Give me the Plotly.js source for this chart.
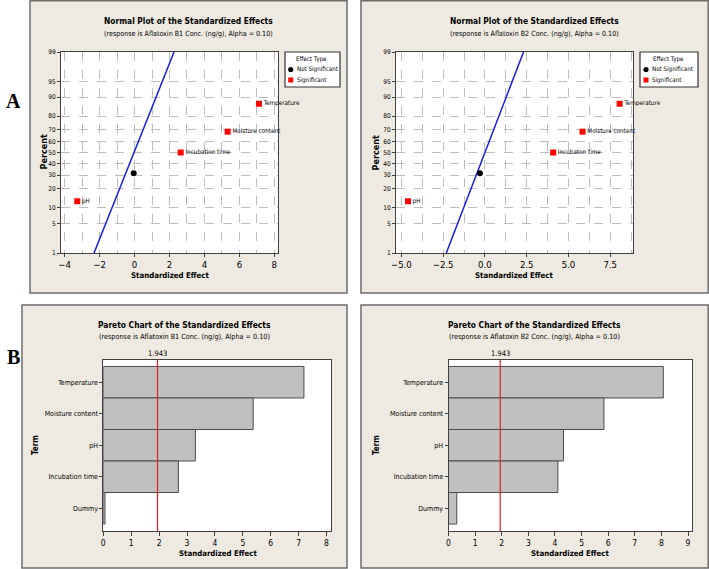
<!DOCTYPE html>
<html>
<head>
<meta charset="utf-8">
<script src="https://cdn.plot.ly/plotly-3.0.1.min.js"></script>
<style>
  html, body { margin: 0; padding: 0; background: #ffffff; }
  #chart { width: 709px; height: 569px; }
</style>
</head>
<body>
<div id="chart"></div>
<script>
// ---------------- DATA ----------------
const terms = ['Temperature', 'Moisture content', 'pH', 'Incubation time', 'Dummy'];
const significant = [true, true, true, true, false];
// normal-plot percentiles of each term
const normalPct = [87.04, 68.52, 12.96, 50, 31.48];
// standardized effects
const normalEffectB1 = [7.12, 5.33, -3.28, 2.64, -0.05];
const normalEffectB2 = [8.06, 5.84, -4.60, 4.08, -0.30];
const normalLabelsB1 = ['Temperature', 'Moisture content', 'pH', 'Incubation time', 'Dummy'];
const normalLabelsB2 = ['Temperature', 'Moisture content', 'pH', 'Incubaton time', 'Dummy'];
// fitted normal lines (effect at 1% and 99%)
const linePct = [1, 99];
const lineEffectB1 = [-2.32, 2.26];
const lineEffectB2 = [-2.31, 2.31];
// absolute standardized effects
const paretoB1 = [7.19, 5.37, 3.30, 2.69, 0.06];
const paretoB2 = [8.07, 5.84, 4.32, 4.11, 0.31];
const refValue = 1.943;
// probability-axis tick labels (percent)
const pctTicks = [1, 5, 10, 20, 30, 40, 50, 60, 70, 80, 90, 95, 99];
const legendTitle = 'Effect Type';
const legendNames = ['Not Significant', 'Significant'];

// ---------------- HELPERS ----------------
function norminv(p) {
  const a = [-3.969683028665376e+01, 2.209460984245205e+02, -2.759285104469687e+02, 1.383577518672690e+02, -3.066479806614716e+01, 2.506628277459239e+00];
  const b = [-5.447609879822406e+01, 1.615858368580409e+02, -1.556989798598866e+02, 6.680131188771972e+01, -1.328068155288572e+01];
  const c = [-7.784894002430293e-03, -3.223964580411365e-01, -2.400758277161838e+00, -2.549671010229583e+00, 4.374664141464968e+00, 2.938163982698783e+00];
  const d = [7.784695709041462e-03, 3.224671290700398e-01, 2.445134137142996e+00, 3.754408661907416e+00];
  const pl = 0.02425, ph = 1 - pl;
  let q, r;
  if (p < pl) {
    q = Math.sqrt(-2 * Math.log(p));
    return (((((c[0]*q+c[1])*q+c[2])*q+c[3])*q+c[4])*q+c[5]) / ((((d[0]*q+d[1])*q+d[2])*q+d[3])*q+1);
  }
  if (p <= ph) {
    q = p - 0.5; r = q * q;
    return (((((a[0]*r+a[1])*r+a[2])*r+a[3])*r+a[4])*r+a[5])*q / (((((b[0]*r+b[1])*r+b[2])*r+b[3])*r+b[4])*r+1);
  }
  q = Math.sqrt(-2 * Math.log(1 - p));
  return -(((((c[0]*q+c[1])*q+c[2])*q+c[3])*q+c[4])*q+c[5]) / ((((d[0]*q+d[1])*q+d[2])*q+d[3])*q+1);
}
const z = pc => norminv(pc / 100);

const W = 709, H = 569;
const px = v => v / W;
const py = v => 1 - v / H;

const FONT = '"Liberation Sans Narrow", "DejaVu Sans Condensed", "Arial Narrow", "Liberation Sans", sans-serif';
const BEIGE = '#EEEAE1';
const GRID = '#bdbdbd';

// ---------------- TRACES ----------------
function normalTraces(xa, ya, eff, lineEff, labels) {
  const sigIdx = terms.map((t, i) => i).filter(i => significant[i]);
  const nsIdx = terms.map((t, i) => i).filter(i => !significant[i]);
  return [
    {
      type: 'scatter', mode: 'lines', xaxis: xa, yaxis: ya,
      x: lineEff, y: linePct.map(z), cliponaxis: true,
      line: { color: '#1a1ae6', width: 1.5 }, showlegend: false, hoverinfo: 'skip'
    },
    {
      type: 'scatter', mode: 'markers', xaxis: xa, yaxis: ya, showlegend: false,
      name: legendNames[0],
      x: nsIdx.map(i => eff[i]), y: nsIdx.map(i => z(normalPct[i])),
      marker: { color: '#000000', size: 6, symbol: 'circle' }
    },
    {
      type: 'scatter', mode: 'markers+text', xaxis: xa, yaxis: ya, showlegend: false,
      name: legendNames[1], cliponaxis: false,
      x: sigIdx.map(i => eff[i]), y: sigIdx.map(i => z(normalPct[i])),
      text: sigIdx.map(i => labels[i]), textposition: 'middle right',
      textfont: { family: FONT, size: 6.3, color: '#000' },
      marker: { color: '#ff0000', size: 6, symbol: 'square' }
    }
  ];
}

function paretoTrace(xa, ya, vals) {
  return {
    type: 'bar', orientation: 'h', xaxis: xa, yaxis: ya,
    x: vals, y: terms, width: 1,
    marker: { color: '#c0c0c0', line: { color: '#4a4a4a', width: 1 } },
    showlegend: false, hoverinfo: 'x+y'
  };
}

const data = [
  ...normalTraces('x', 'y', normalEffectB1, lineEffectB1, normalLabelsB1),
  ...normalTraces('x2', 'y2', normalEffectB2, lineEffectB2, normalLabelsB2),
  paretoTrace('x3', 'y3', paretoB1),
  paretoTrace('x4', 'y4', paretoB2)
];

// ---------------- AXES ----------------
const baseAxis = {
  showline: true, mirror: true, linecolor: '#404040', linewidth: 1,
  ticks: 'outside', ticklen: 3, tickcolor: '#404040',
  zeroline: false, automargin: false, fixedrange: true,
  tickfont: { family: FONT, size: 9, color: '#000' }
};

function probY(domain, anchor) {
  return Object.assign({}, baseAxis, {
    domain: domain, anchor: anchor,
    range: [z(1), z(99)],
    tickvals: pctTicks.map(z), ticktext: pctTicks.map(String),
    tickfont: { family: FONT, size: 6.5, color: '#000' },
    showgrid: true, gridcolor: GRID, griddash: 'dash', gridwidth: 1
  });
}

function effX(domain, anchor, range, dtick, minorDtick, fmt) {
  return Object.assign({}, baseAxis, {
    domain: domain, anchor: anchor, range: range,
    tickmode: 'linear', tick0: 0, dtick: dtick, tickformat: fmt,
    tickfont: { family: FONT, size: 9.5, color: '#000' },
    showgrid: true, gridcolor: GRID, griddash: 'dash', gridwidth: 1,
    minor: { tickmode: 'linear', tick0: 0, dtick: minorDtick, showgrid: true, gridcolor: GRID, griddash: 'dash', gridwidth: 1 }
  });
}

function paretoX(domain, anchor, range) {
  return Object.assign({}, baseAxis, {
    domain: domain, anchor: anchor, range: range,
    tickmode: 'linear', tick0: 0, dtick: 1, ticklen: 4,
    tickfont: { family: FONT, size: 8.5, color: '#000' },
    showgrid: false
  });
}

function paretoY(domain, anchor) {
  return Object.assign({}, baseAxis, {
    domain: domain, anchor: anchor, type: 'category',
    categoryorder: 'array', categoryarray: terms,
    range: [4.72, -0.72],
    tickfont: { family: FONT, size: 7, color: '#000' },
    showgrid: false
  });
}

const domAx1 = [px(61), px(278)], domAx2 = [px(396), px(633)];
const domAy = [py(253), py(52)];
const domBx1 = [px(103.3), px(331)], domBx2 = [px(448.5), px(692.3)];
const domBy = [py(531), py(359.5)];

// ---------------- FRAMES / SHAPES ----------------
function frame(x0, y0, x1, y1) {
  return {
    type: 'rect', xref: 'paper', yref: 'paper', layer: 'below',
    x0: px(x0), x1: px(x1), y0: py(y1), y1: py(y0),
    fillcolor: BEIGE, line: { color: '#6e6e6e', width: 1.5 }
  };
}
function plotBg(xa, ya) {
  return {
    type: 'rect', xref: xa + ' domain', yref: ya + ' domain', layer: 'below',
    x0: 0, x1: 1, y0: 0, y1: 1, fillcolor: '#ffffff', line: { width: 0 }
  };
}
function legendBox(x0, x1, y0, y1, mx) {
  return [
    { type: 'rect', xref: 'paper', yref: 'paper', layer: 'above',
      x0: px(x0), x1: px(x1), y0: py(y1), y1: py(y0),
      fillcolor: '#ffffff', line: { color: '#333333', width: 1.2 } },
    { type: 'circle', xref: 'paper', yref: 'paper', layer: 'above',
      x0: px(mx - 2.6), x1: px(mx + 2.6), y0: py(69.5 + 2.6), y1: py(69.5 - 2.6),
      fillcolor: '#000000', line: { width: 0 } },
    { type: 'rect', xref: 'paper', yref: 'paper', layer: 'above',
      x0: px(mx - 2.5), x1: px(mx + 2.5), y0: py(80 + 2.5), y1: py(80 - 2.5),
      fillcolor: '#ff0000', line: { width: 0 } }
  ];
}

const shapes = [
  frame(30, 0.8, 347, 293),
  frame(361, 0.8, 708.2, 293),
  frame(22, 305, 347, 568),
  frame(361, 305, 708.2, 568),
  plotBg('x', 'y'), plotBg('x2', 'y2'), plotBg('x3', 'y3'), plotBg('x4', 'y4'),
  { type: 'line', xref: 'x3', yref: 'y3 domain', x0: refValue, x1: refValue, y0: 0, y1: 1, line: { color: '#e02020', width: 1.2 }, layer: 'above' },
  { type: 'line', xref: 'x4', yref: 'y4 domain', x0: refValue, x1: refValue, y0: 0, y1: 1, line: { color: '#e02020', width: 1.2 }, layer: 'above' },
  ...legendBox(285, 340, 52, 87, 290.7),
  ...legendBox(640, 698, 52, 87, 646)
];

// ---------------- ANNOTATIONS ----------------
function txt(x, y, text, size, extra) {
  return Object.assign({
    xref: 'paper', yref: 'paper', x: px(x), y: py(y), text: text, showarrow: false,
    xanchor: 'center', yanchor: 'middle', font: { family: FONT, size: size, color: '#000' }
  }, extra || {});
}
const left = { xanchor: 'left' };

const annotations = [
  txt(188.5, 21, '<b>Normal Plot of the Standardized Effects</b>', 8.4),
  txt(188.5, 33, '(response is Aflatoxin B1 Conc. (ng/g), Alpha = 0.10)', 7.1),
  txt(534.5, 21, '<b>Normal Plot of the Standardized Effects</b>', 8.4),
  txt(534.5, 33, '(response is Aflatoxin B2 Conc. (ng/g), Alpha = 0.10)', 7.1),
  txt(184.5, 325, '<b>Pareto Chart of the Standardized Effects</b>', 8.4),
  txt(184.5, 336, '(response is Aflatoxin B1 Conc. (ng/g), Alpha = 0.10)', 7.2),
  txt(534.5, 325, '<b>Pareto Chart of the Standardized Effects</b>', 8.4),
  txt(534.5, 336, '(response is Aflatoxin B2 Conc. (ng/g), Alpha = 0.10)', 7.2),
  // axis titles
  txt(169.5, 275, '<b>Standardized Effect</b>', 7.8),
  txt(514, 275, '<b>Standardized Effect</b>', 7.8),
  txt(43, 152.5, '<b>Percent</b>', 9, { textangle: -90 }),
  txt(375, 152.5, '<b>Percent</b>', 9, { textangle: -90 }),
  txt(218, 553, '<b>Standardized Effect</b>', 7.8),
  txt(569.5, 553, '<b>Standardized Effect</b>', 7.8),
  txt(35, 445, '<b>Term</b>', 8, { textangle: -90 }),
  txt(376, 445, '<b>Term</b>', 8, { textangle: -90 }),
  // reference value labels
  { xref: 'x3', yref: 'y3 domain', x: refValue, y: 1, yanchor: 'bottom', yshift: 0, text: String(refValue), showarrow: false, font: { family: FONT, size: 7.5, color: '#000' } },
  { xref: 'x4', yref: 'y4 domain', x: refValue, y: 1, yanchor: 'bottom', yshift: 0, text: String(refValue), showarrow: false, font: { family: FONT, size: 7.5, color: '#000' } },
  // legends
  txt(311, 59, legendTitle, 6.2),
  txt(294.5, 69.5, legendNames[0], 6.2, left),
  txt(294.5, 80, legendNames[1], 6.2, left),
  txt(668, 59, legendTitle, 6.2),
  txt(650, 69.5, legendNames[0], 6.2, left),
  txt(650, 80, legendNames[1], 6.2, left),
  // panel letters
  txt(13, 101, '<b>A</b>', 20, { font: { family: '"Liberation Serif", "DejaVu Serif", serif', size: 20, color: '#000' } }),
  txt(13, 357, '<b>B</b>', 20, { font: { family: '"Liberation Serif", "DejaVu Serif", serif', size: 20, color: '#000' } })
];

const layout = {
  width: W, height: H,
  margin: { l: 0, r: 0, t: 0, b: 0, pad: 0 },
  paper_bgcolor: '#ffffff', plot_bgcolor: '#ffffff',
  font: { family: FONT, size: 9, color: '#000' },
  showlegend: false,
  xaxis: effX(domAx1, 'y', [-4.21, 8.21], 2, 1, ''),
  yaxis: probY(domAy, 'x'),
  xaxis2: effX(domAx2, 'y2', [-5.32, 8.86], 2.5, 1.25, '.1f'),
  yaxis2: probY(domAy, 'x2'),
  xaxis3: paretoX(domBx1, 'y3', [0, 8.16]),
  yaxis3: paretoY(domBy, 'x3'),
  xaxis4: paretoX(domBx2, 'y4', [0, 9.16]),
  yaxis4: paretoY(domBy, 'x4'),
  bargap: 0,
  shapes: shapes,
  annotations: annotations
};

Plotly.newPlot('chart', data, layout, { displayModeBar: false, staticPlot: true });
</script>
</body>
</html>
